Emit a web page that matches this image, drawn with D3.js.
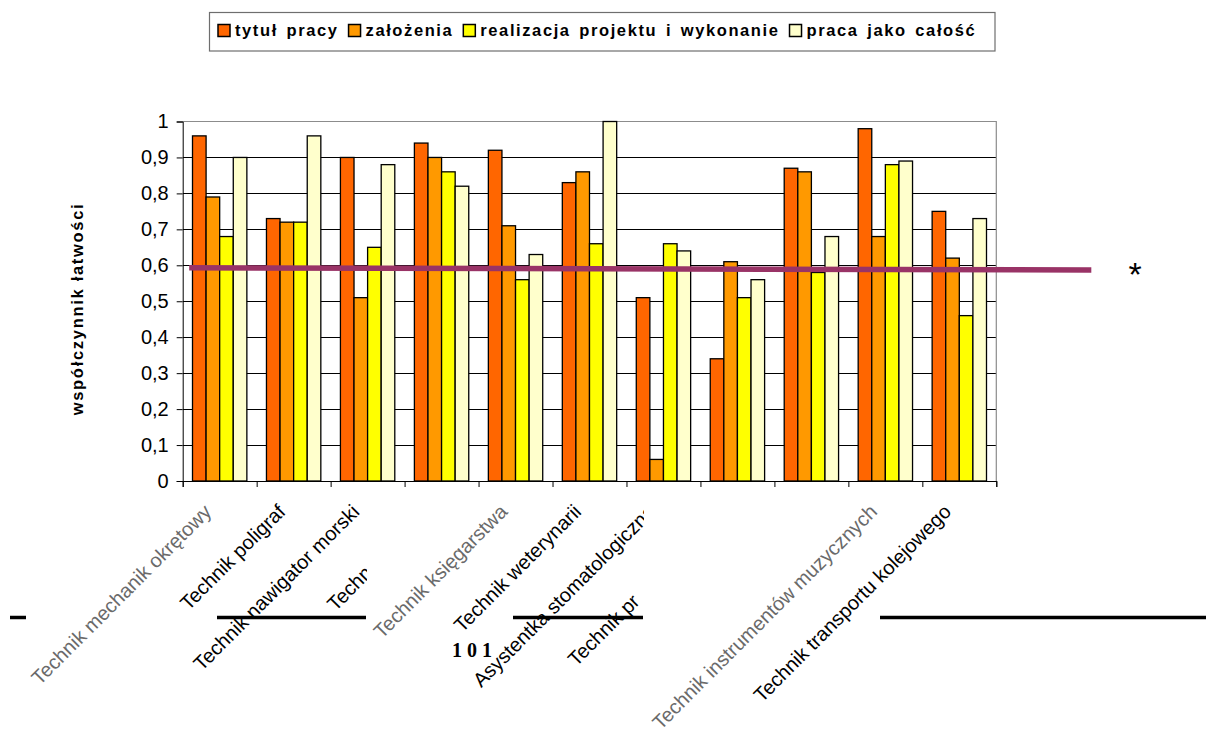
<!DOCTYPE html>
<html><head><meta charset="utf-8">
<script src="https://cdn.jsdelivr.net/npm/d3@7"></script>
<style>body{margin:0;background:#fff}</style>
</head><body>
<svg id="chart" width="1206" height="731"></svg>
<script>
// ---------- data ----------
const categories = ["Technik mechanik okrętowy","Technik poligraf","Technik nawigator morski","Techn","Technik księgarstwa","Technik weterynarii","Asystentka stomatologiczna","Technik pr","","Technik instrumentów muzycznych","Technik transportu kolejowego"];
const seriesNames = ["tytuł pracy","założenia","realizacja projektu i wykonanie","praca jako całość"];
const tytulPracy   = [0.96,0.73,0.90,0.94,0.92,0.83,0.51,0.34,0.87,0.98,0.75];
const zalozenia    = [0.79,0.72,0.51,0.90,0.71,0.86,0.06,0.61,0.86,0.68,0.62];
const realizacja   = [0.68,0.72,0.65,0.86,0.56,0.66,0.66,0.51,0.58,0.88,0.46];
const pracaCalosc  = [0.90,0.96,0.88,0.82,0.63,1.00,0.64,0.56,0.68,0.89,0.73];
const yTickValues  = [0,0.1,0.2,0.3,0.4,0.5,0.6,0.7,0.8,0.9,1];
const yTickLabels  = ["0","0,1","0,2","0,3","0,4","0,5","0,6","0,7","0,8","0,9","1"];
const referenceLine = [0.593,0.587];
const yTitle = "współczynnik łatwości";

// ---------- layout / styles ----------
const colors = ["#FF6600","#FF9900","#FFFF00","#FFFFCC"];
const series = [tytulPracy, zalozenia, realizacja, pracaCalosc];
const L = 182.7, R = 996.3, T = 121.5, B = 481;
const FONT = "Arial, 'Liberation Sans', sans-serif";

const svg = d3.select("#chart");

const x0 = d3.scaleBand().domain(d3.range(categories.length)).range([L,R]).paddingInner(0.265).paddingOuter(0.1325);
const x1 = d3.scaleBand().domain(d3.range(series.length)).range([0, x0.bandwidth()]);
const y = d3.scaleLinear().domain([0,1]).range([B,T]);

// gridlines
svg.append("g").selectAll("line").data(yTickValues.filter(v => v > 0 && v < 1)).join("line")
  .attr("x1", L).attr("x2", R).attr("y1", d => y(d)).attr("y2", d => y(d))
  .attr("stroke", "#000").attr("stroke-width", 1).attr("shape-rendering","crispEdges");
// plot border top/right
svg.append("path").attr("d", `M${L},${y(1)}H${R}V${B}`).attr("fill","none")
  .attr("stroke","#8c8c8c").attr("stroke-width",1.2);

// bars
const groups = svg.append("g").selectAll("g").data(categories).join("g")
  .attr("transform", (d,i) => `translate(${x0(i)},0)`);
groups.selectAll("rect").data((d,i) => series.map((s,j) => ({j, v: s[i]}))).join("rect")
  .attr("x", d => x1(d.j)).attr("width", x1.bandwidth())
  .attr("y", d => y(d.v)).attr("height", d => y(0) - y(d.v))
  .attr("fill", d => colors[d.j]).attr("stroke", "#000").attr("stroke-width", 1.3);

// y axis
const yAxis = svg.append("g").attr("transform", `translate(${L},0)`)
  .call(d3.axisLeft(y).tickValues(yTickValues).tickFormat((d,i) => yTickLabels[i]).tickSize(6).tickPadding(8));
yAxis.selectAll("text").attr("font-family", FONT).attr("font-size", 20).attr("fill","#000");
yAxis.selectAll("line,path").attr("stroke","#000");

// x axis (category boundaries)
const xb = d3.scaleLinear().domain([0, categories.length]).range([L,R]);
const xAxis = svg.append("g").attr("transform", `translate(0,${B})`)
  .call(d3.axisBottom(xb).ticks(categories.length).tickFormat("").tickSize(6));
xAxis.selectAll("line,path").attr("stroke","#000");

// reference line
svg.append("line")
  .attr("x1", L + 6.5).attr("x2", R + 95)
  .attr("y1", y(referenceLine[0])).attr("y2", y(referenceLine[1]))
  .attr("stroke", "#993366").attr("stroke-width", 5.5);
svg.append("text").attr("x", 1135).attr("y", 286).attr("text-anchor","middle")
  .attr("font-family", FONT).attr("font-size", 34).text("*");

// y title
svg.append("text").attr("transform", "translate(83,309) rotate(-90)")
  .attr("text-anchor","middle").attr("font-family", FONT).attr("font-size", 16.5)
  .attr("font-weight","bold").attr("letter-spacing", "1.7px").text(yTitle);

// page rules (decorative)
const rules = [[10,26],[217,366],[513,643],[880,1206]];
svg.append("g").selectAll("line").data(rules).join("line")
  .attr("x1", d => d[0]).attr("x2", d => d[1]).attr("y1", 617.5).attr("y2", 617.5)
  .attr("stroke","#000").attr("stroke-width", 3.5);

svg.append("text").attr("x", 452).attr("y", 657).attr("font-family","'Times New Roman','Liberation Serif',serif")
  .attr("font-size", 20).attr("font-weight","bold").attr("letter-spacing","5px").text("101");

// clip paths for truncated labels
const defs = svg.append("defs");
defs.append("clipPath").attr("id","clipA").append("rect").attr("x",0).attr("y",0).attr("width",367).attr("height",731);
defs.append("clipPath").attr("id","clipB").append("rect").attr("x",0).attr("y",0).attr("width",644).attr("height",731);

// x labels
const labelSpan = [null,null,null,140,null,null,null,218,null,null,null];
const labelClip = [null,null,null,"clipA",null,null,"clipB","clipB",null,null,null];
const grayLabels = [0,4,9];
const LY = 513, K = Math.SQRT1_2;
categories.forEach((c,i) => {
  if (!c) return;
  const cx = x0(i) + x0.bandwidth()/2 - 7;
  const g = svg.append("g");
  if (labelClip[i]) g.attr("clip-path", `url(#${labelClip[i]})`);
  const t = g.append("text").attr("font-family", FONT).attr("font-size", 20)
    .attr("fill", grayLabels.includes(i) ? "#6a6a6a" : "#000").text(c);
  if (labelSpan[i]) {
    const sx = cx - labelSpan[i]*K, sy = LY + labelSpan[i]*K;
    t.attr("text-anchor","start").attr("transform", `translate(${sx},${sy}) rotate(-45)`);
  } else {
    t.attr("text-anchor","end").attr("transform", `translate(${cx},${LY}) rotate(-45)`);
  }
});

// legend
const leg = svg.append("g");
leg.append("rect").attr("x",209.5).attr("y",12.5).attr("width",785.5).attr("height",38.5)
  .attr("fill","#fff").attr("stroke","#6e6e6e").attr("stroke-width",1.2);
let lx = 218;
seriesNames.forEach((n,i) => {
  leg.append("rect").attr("x", lx).attr("y", 24.5).attr("width", 12).attr("height", 12)
    .attr("fill", colors[i]).attr("stroke","#000").attr("stroke-width",1.5);
  const t = leg.append("text").attr("x", lx + 17).attr("y", 36).attr("font-family", FONT)
    .attr("font-size", 16.5).attr("font-weight","bold").attr("letter-spacing","1.6px")
    .attr("word-spacing","2.5px").text(n);
  lx = lx + 17 + t.node().getComputedTextLength() + 10;
});
</script>
</body></html>
